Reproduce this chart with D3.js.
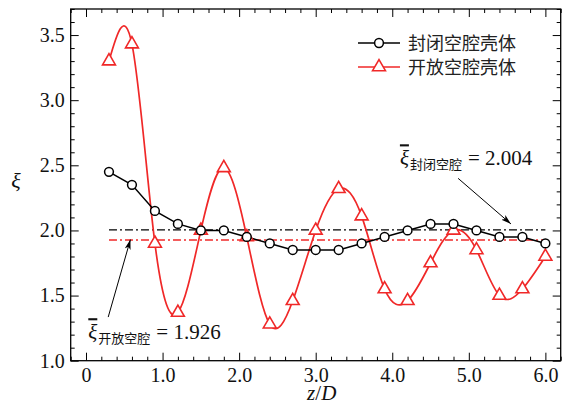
<!DOCTYPE html>
<html>
<head>
<meta charset="utf-8">
<script src="https://cdn.jsdelivr.net/npm/d3@7"></script>
<style>
  html, body { margin: 0; padding: 0; background: #fff; }
  svg { display: block; }
  .serif { font-family: "Liberation Serif", "DejaVu Serif", serif; }
  .cjk { font-family: "Noto Sans CJK SC", sans-serif; }
</style>
</head>
<body>
<svg id="chart" width="571" height="410"></svg>
<script>
// Axial positions z/D (shared by both series)
const zPositions = [0.3, 0.6, 0.9, 1.2, 1.5, 1.8, 2.1, 2.4, 2.7, 3.0,
                    3.3, 3.6, 3.9, 4.2, 4.5, 4.8, 5.1, 5.4, 5.7, 6.0];
// ξ for the closed-cavity shell
const closedShell = [2.45, 2.35, 2.15, 2.05, 2.0, 2.0, 1.95, 1.9, 1.85, 1.85,
                     1.85, 1.9, 1.95, 2.0, 2.05, 2.05, 2.0, 1.95, 1.95, 1.9];
// ξ for the open-cavity shell
const openShell = [3.3, 3.43, 1.9, 1.37, 2.0, 2.48, 1.95, 1.28, 1.46, 2.0,
                   2.32, 2.11, 1.55, 1.46, 1.75, 2.0, 1.85, 1.5, 1.55, 1.8];
const seriesNames = ["封闭空腔壳体", "开放空腔壳体"];
const meanClosed = 2.004;
const meanOpen = 1.926;
const meanRange = [0.3, 6.0];

const xTickValues = [0, 1, 2, 3, 4, 5, 6];
const xTickLabels = ["0", "1.0", "2.0", "3.0", "4.0", "5.0", "6.0"];
const yTickValues = [1.0, 1.5, 2.0, 2.5, 3.0, 3.5];
const yTickLabels = ["1.0", "1.5", "2.0", "2.5", "3.0", "3.5"];

const RED = "#f02828";

const svg = d3.select("#chart");
const margin = { left: 70.7, right: 10.3, top: 9, bottom: 49.3 };
const W = 571, H = 410;
const x = d3.scaleLinear().domain([-0.2, 6.2]).range([margin.left, W - margin.right]);
const y = d3.scaleLinear().domain([1.0, 3.7]).range([H - margin.bottom, margin.top]);
const [x0, x1] = x.range();
const [y0, y1] = y.range();

// Axes with inward ticks on all four sides
const minorX = d3.range(-0.2, 6.21, 0.2).map(v => +v.toFixed(2));
const minorY = d3.range(1.0, 3.71, 0.1).map(v => +v.toFixed(2));
const isMajorX = v => xTickValues.some(t => Math.abs(t - v) < 1e-6);
const isMajorY = v => yTickValues.some(t => Math.abs(t - v) < 1e-6);
const MAJ = 8, MIN = 4;

function drawAxis(axis, transform) {
  const g = svg.append("g").attr("transform", transform).call(axis);
  g.select(".domain").remove();
  g.attr("font-family", null).attr("font-size", null);
  g.selectAll("line").attr("stroke", "#000").attr("stroke-width", 1);
  return g;
}

// bottom
const bx = drawAxis(d3.axisBottom(x).tickValues(xTickValues).tickSize(-MAJ).tickPadding(7)
  .tickFormat((d, i) => xTickLabels[i]), `translate(0,${y0})`);
bx.selectAll("text").attr("class", "serif").style("font-size", "20px").attr("fill", "#111");
drawAxis(d3.axisBottom(x).tickValues(minorX.filter(v => !isMajorX(v))).tickSize(-MIN).tickFormat(""), `translate(0,${y0})`);
// top
drawAxis(d3.axisTop(x).tickValues(xTickValues).tickSize(-MAJ).tickFormat(""), `translate(0,${y1})`);
drawAxis(d3.axisTop(x).tickValues(minorX.filter(v => !isMajorX(v))).tickSize(-MIN).tickFormat(""), `translate(0,${y1})`);
// left
const ly = drawAxis(d3.axisLeft(y).tickValues(yTickValues).tickSize(-MAJ).tickPadding(6)
  .tickFormat((d, i) => yTickLabels[i]), `translate(${x0},0)`);
ly.selectAll("text").attr("class", "serif").style("font-size", "20px").attr("fill", "#111");
drawAxis(d3.axisLeft(y).tickValues(minorY.filter(v => !isMajorY(v))).tickSize(-MIN).tickFormat(""), `translate(${x0},0)`);
// right
drawAxis(d3.axisRight(y).tickValues(yTickValues).tickSize(-MAJ).tickFormat(""), `translate(${x1},0)`);
drawAxis(d3.axisRight(y).tickValues(minorY.filter(v => !isMajorY(v))).tickSize(-MIN).tickFormat(""), `translate(${x1},0)`);

// frame
svg.append("rect").attr("x", x0).attr("y", y1).attr("width", x1 - x0).attr("height", y0 - y1)
  .attr("fill", "none").attr("stroke", "#000").attr("stroke-width", 1.3);

// axis titles
const xt = svg.append("text").attr("class", "serif").attr("x", x(3.0) + 6).attr("y", 400)
  .attr("text-anchor", "middle").style("font-size", "21px").attr("fill", "#111");
xt.append("tspan").style("font-style", "italic").text("z");
xt.append("tspan").text("/");
xt.append("tspan").style("font-style", "italic").text("D");

svg.append("text").attr("class", "serif").attr("x", 16).attr("y", 188).attr("text-anchor", "middle")
  .style("font-size", "22px").style("font-style", "italic").attr("fill", "#111").text("ξ");

// mean lines (dash-dot)
svg.append("line").attr("x1", x(meanRange[0])).attr("x2", x(meanRange[1]))
  .attr("y1", y(meanClosed)).attr("y2", y(meanClosed))
  .attr("stroke", "#000").attr("stroke-width", 1.2).attr("stroke-dasharray", "8,3,2,3");
svg.append("line").attr("x1", x(meanRange[0])).attr("x2", x(meanRange[1]))
  .attr("y1", y(meanOpen)).attr("y2", y(meanOpen))
  .attr("stroke", RED).attr("stroke-width", 1.5).attr("stroke-dasharray", "8,3,2,3");

const openData = zPositions.map((z, i) => [z, openShell[i]]);
const closedData = zPositions.map((z, i) => [z, closedShell[i]]);

// open-cavity series: smooth spline through the points
svg.append("path").datum(openData)
  .attr("d", d3.line().x(d => x(d[0])).y(d => y(d[1])).curve(d3.curveNatural))
  .attr("fill", "none").attr("stroke", RED).attr("stroke-width", 1.7);

// closed-cavity series: straight segments
svg.append("path").datum(closedData)
  .attr("d", d3.line().x(d => x(d[0])).y(d => y(d[1])))
  .attr("fill", "none").attr("stroke", "#000").attr("stroke-width", 1.5);

const tri = d3.symbol().type(d3.symbolTriangle).size(72);
svg.append("g").selectAll("path").data(openData).join("path")
  .attr("transform", d => `translate(${x(d[0])},${y(d[1])})`)
  .attr("d", tri).attr("fill", "#fff").attr("stroke", RED).attr("stroke-width", 1.6);

svg.append("g").selectAll("circle").data(closedData).join("circle")
  .attr("cx", d => x(d[0])).attr("cy", d => y(d[1])).attr("r", 4.4)
  .attr("fill", "#fff").attr("stroke", "#000").attr("stroke-width", 1.5);

// legend
const legend = svg.append("g").attr("transform", "translate(358,43)");
[["#000", "circle"], [RED, "tri"]].forEach(([col, kind], i) => {
  const g = legend.append("g").attr("transform", `translate(0,${i * 24})`);
  g.append("line").attr("x1", 0).attr("x2", 42).attr("stroke", col).attr("stroke-width", 1.6);
  if (kind === "circle") {
    g.append("circle").attr("cx", 21).attr("r", 4.4).attr("fill", "#fff").attr("stroke", col).attr("stroke-width", 1.5);
  } else {
    g.append("path").attr("transform", "translate(21,0)").attr("d", tri).attr("fill", "#fff").attr("stroke", col).attr("stroke-width", 1.6);
  }
  g.append("text").attr("class", "cjk").attr("x", 50).attr("y", 6.5).style("font-size", "18px")
    .attr("fill", "#222").text(seriesNames[i]);
});

// mean annotations with arrows
const defs = svg.append("defs");
defs.append("marker").attr("id", "arrowhead").attr("viewBox", "0 0 10 6")
  .attr("refX", 10).attr("refY", 3).attr("markerWidth", 10).attr("markerHeight", 6)
  .attr("markerUnits", "userSpaceOnUse").attr("orient", "auto")
  .append("path").attr("d", "M0,0 L10,3 L0,6 L2.5,3 Z").attr("fill", "#000");

function annotate(textPos, label, value, from, to) {
  const t = svg.append("text").attr("class", "serif").attr("x", x(textPos[0])).attr("y", y(textPos[1]))
    .style("font-size", "21px").attr("fill", "#111");
  t.append("tspan").style("font-style", "italic").attr("text-decoration", "overline").text("ξ");
  t.append("tspan").attr("class", "cjk").style("font-size", "13px").attr("dy", 4).attr("dx", 1).text(label);
  t.append("tspan").attr("dy", -4).attr("dx", 6).text("= ");
  t.append("tspan").text(value.toFixed(3));
  svg.append("line").attr("x1", x(from[0])).attr("y1", y(from[1]))
    .attr("x2", x(to[0])).attr("y2", y(to[1]))
    .attr("stroke", "#000").attr("stroke-width", 1).attr("marker-end", "url(#arrowhead)");
}
annotate([4.10, 2.50], "封闭空腔", meanClosed, [4.86, 2.40], [5.55, 2.05]);
annotate([0.03, 1.165], "开放空腔", meanOpen, [0.29, 1.335], [0.58, 1.93]);
</script>
</body>
</html>
